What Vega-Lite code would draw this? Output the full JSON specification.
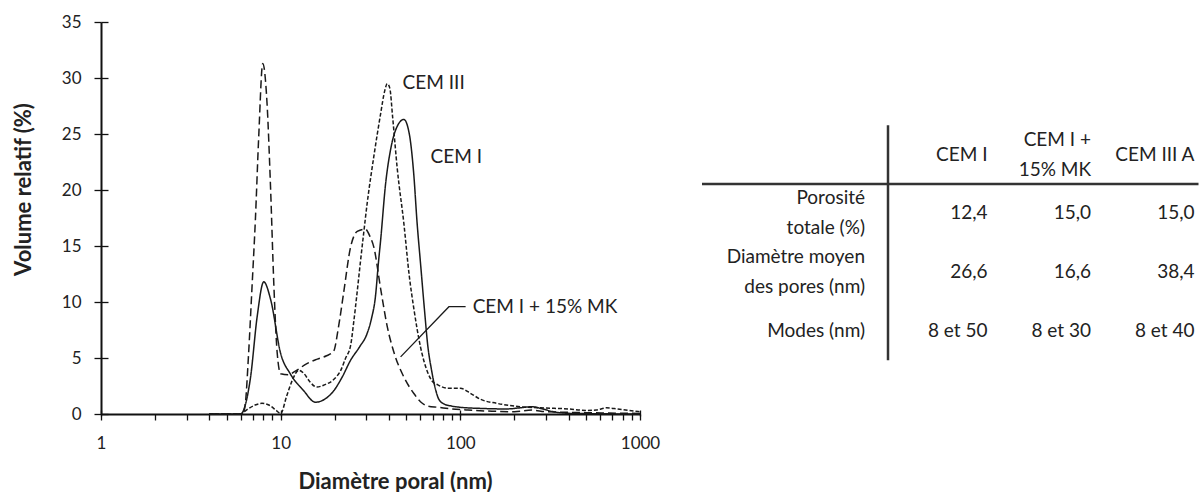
{
  "$schema": "https://vega.github.io/schema/vega-lite/v6.json",
  "background": "white",
  "padding": {"left": 12, "top": 13, "right": 0, "bottom": 0},
  "config": {
    "font": "Lato",
    "view": {"stroke": null},
    "axis": {"grid": false, "labelFont": "Lato", "titleFont": "Lato", "labelColor": "#222", "titleColor": "#222", "domainColor": "#111", "tickColor": "#111"},
    "text": {"font": "Lato"}
  },
  "datasets": {
    "curves": [
      {"s": "CEM I", "d": 4, "v": 0}, {"s": "CEM I", "d": 6.0, "v": 0}, {"s": "CEM I", "d": 6.3, "v": 0.6}, {"s": "CEM I", "d": 6.8, "v": 3.3}, {"s": "CEM I", "d": 7.4, "v": 8.7}, {"s": "CEM I", "d": 8.05, "v": 11.8}, {"s": "CEM I", "d": 8.8, "v": 10.2}, {"s": "CEM I", "d": 10, "v": 5.4}, {"s": "CEM I", "d": 11.3, "v": 3.6}, {"s": "CEM I", "d": 13.4, "v": 2.1}, {"s": "CEM I", "d": 15.6, "v": 1.05}, {"s": "CEM I", "d": 17.5, "v": 1.3}, {"s": "CEM I", "d": 19.8, "v": 2.1}, {"s": "CEM I", "d": 22, "v": 3.3}, {"s": "CEM I", "d": 24.5, "v": 4.8}, {"s": "CEM I", "d": 27.5, "v": 6.0}, {"s": "CEM I", "d": 30.3, "v": 7.2}, {"s": "CEM I", "d": 32, "v": 8.5}, {"s": "CEM I", "d": 33.7, "v": 10.5}, {"s": "CEM I", "d": 35, "v": 13.5}, {"s": "CEM I", "d": 36, "v": 15.5}, {"s": "CEM I", "d": 38.4, "v": 20.6}, {"s": "CEM I", "d": 40.9, "v": 23.6}, {"s": "CEM I", "d": 44, "v": 25.5}, {"s": "CEM I", "d": 48.5, "v": 26.3}, {"s": "CEM I", "d": 52, "v": 25}, {"s": "CEM I", "d": 55, "v": 21.5}, {"s": "CEM I", "d": 57.5, "v": 17}, {"s": "CEM I", "d": 60, "v": 13.5}, {"s": "CEM I", "d": 63, "v": 9.5}, {"s": "CEM I", "d": 66, "v": 6}, {"s": "CEM I", "d": 69, "v": 4}, {"s": "CEM I", "d": 72, "v": 2.5}, {"s": "CEM I", "d": 76, "v": 1.3}, {"s": "CEM I", "d": 81, "v": 0.9}, {"s": "CEM I", "d": 90, "v": 0.7}, {"s": "CEM I", "d": 100, "v": 0.6}, {"s": "CEM I", "d": 130, "v": 0.5}, {"s": "CEM I", "d": 180, "v": 0.45}, {"s": "CEM I", "d": 215, "v": 0.55}, {"s": "CEM I", "d": 250, "v": 0.65}, {"s": "CEM I", "d": 280, "v": 0.5}, {"s": "CEM I", "d": 330, "v": 0.2}, {"s": "CEM I", "d": 420, "v": 0.05}, {"s": "CEM I", "d": 1000, "v": 0},
      {"s": "CEM I + 15% MK", "d": 4, "v": 0}, {"s": "CEM I + 15% MK", "d": 6.15, "v": 0}, {"s": "CEM I + 15% MK", "d": 6.36, "v": 0.95}, {"s": "CEM I + 15% MK", "d": 6.63, "v": 5.4}, {"s": "CEM I + 15% MK", "d": 6.93, "v": 11.4}, {"s": "CEM I + 15% MK", "d": 7.23, "v": 17.3}, {"s": "CEM I + 15% MK", "d": 7.55, "v": 24.8}, {"s": "CEM I + 15% MK", "d": 7.95, "v": 31.3}, {"s": "CEM I + 15% MK", "d": 8.4, "v": 27.7}, {"s": "CEM I + 15% MK", "d": 8.78, "v": 20.3}, {"s": "CEM I + 15% MK", "d": 9.17, "v": 11.4}, {"s": "CEM I + 15% MK", "d": 9.57, "v": 5.4}, {"s": "CEM I + 15% MK", "d": 10, "v": 3.6}, {"s": "CEM I + 15% MK", "d": 11, "v": 3.5}, {"s": "CEM I + 15% MK", "d": 12, "v": 3.8}, {"s": "CEM I + 15% MK", "d": 14, "v": 4.5}, {"s": "CEM I + 15% MK", "d": 16, "v": 4.9}, {"s": "CEM I + 15% MK", "d": 18, "v": 5.2}, {"s": "CEM I + 15% MK", "d": 19.7, "v": 5.6}, {"s": "CEM I + 15% MK", "d": 21, "v": 7.8}, {"s": "CEM I + 15% MK", "d": 22.4, "v": 10.8}, {"s": "CEM I + 15% MK", "d": 24.5, "v": 14.9}, {"s": "CEM I + 15% MK", "d": 26.7, "v": 16.3}, {"s": "CEM I + 15% MK", "d": 29.6, "v": 16.5}, {"s": "CEM I + 15% MK", "d": 31.5, "v": 15.8}, {"s": "CEM I + 15% MK", "d": 33, "v": 14.9}, {"s": "CEM I + 15% MK", "d": 36, "v": 11.2}, {"s": "CEM I + 15% MK", "d": 39.2, "v": 7.8}, {"s": "CEM I + 15% MK", "d": 42.9, "v": 5.4}, {"s": "CEM I + 15% MK", "d": 48.5, "v": 3.3}, {"s": "CEM I + 15% MK", "d": 55, "v": 1.85}, {"s": "CEM I + 15% MK", "d": 60, "v": 1.1}, {"s": "CEM I + 15% MK", "d": 66, "v": 0.7}, {"s": "CEM I + 15% MK", "d": 75, "v": 0.6}, {"s": "CEM I + 15% MK", "d": 90, "v": 0.45}, {"s": "CEM I + 15% MK", "d": 110, "v": 0.35}, {"s": "CEM I + 15% MK", "d": 150, "v": 0.25}, {"s": "CEM I + 15% MK", "d": 200, "v": 0.2}, {"s": "CEM I + 15% MK", "d": 250, "v": 0.35}, {"s": "CEM I + 15% MK", "d": 300, "v": 0.2}, {"s": "CEM I + 15% MK", "d": 500, "v": 0.12}, {"s": "CEM I + 15% MK", "d": 1000, "v": 0.05},
      {"s": "CEM III", "d": 4, "v": 0}, {"s": "CEM III", "d": 5.97, "v": 0}, {"s": "CEM III", "d": 6.5, "v": 0.4}, {"s": "CEM III", "d": 7.2, "v": 0.8}, {"s": "CEM III", "d": 7.87, "v": 0.95}, {"s": "CEM III", "d": 8.6, "v": 0.8}, {"s": "CEM III", "d": 9.4, "v": 0.35}, {"s": "CEM III", "d": 10, "v": 0.05}, {"s": "CEM III", "d": 10.8, "v": 1.6}, {"s": "CEM III", "d": 11.6, "v": 3.0}, {"s": "CEM III", "d": 12.6, "v": 3.9}, {"s": "CEM III", "d": 13.5, "v": 3.6}, {"s": "CEM III", "d": 14.5, "v": 2.9}, {"s": "CEM III", "d": 15.9, "v": 2.4}, {"s": "CEM III", "d": 17.5, "v": 2.6}, {"s": "CEM III", "d": 19.8, "v": 3.1}, {"s": "CEM III", "d": 21.6, "v": 3.9}, {"s": "CEM III", "d": 23, "v": 5.0}, {"s": "CEM III", "d": 24.5, "v": 6.1}, {"s": "CEM III", "d": 25.5, "v": 8.2}, {"s": "CEM III", "d": 26.7, "v": 11}, {"s": "CEM III", "d": 27.8, "v": 13.6}, {"s": "CEM III", "d": 29, "v": 16.2}, {"s": "CEM III", "d": 30.3, "v": 18.8}, {"s": "CEM III", "d": 33, "v": 23}, {"s": "CEM III", "d": 36, "v": 26.8}, {"s": "CEM III", "d": 38, "v": 28.9}, {"s": "CEM III", "d": 39.2, "v": 29.5}, {"s": "CEM III", "d": 40.5, "v": 29.1}, {"s": "CEM III", "d": 42, "v": 26.5}, {"s": "CEM III", "d": 44.5, "v": 22}, {"s": "CEM III", "d": 48.5, "v": 17}, {"s": "CEM III", "d": 52, "v": 12.3}, {"s": "CEM III", "d": 55, "v": 9.5}, {"s": "CEM III", "d": 60, "v": 6}, {"s": "CEM III", "d": 65.5, "v": 3.8}, {"s": "CEM III", "d": 70, "v": 2.9}, {"s": "CEM III", "d": 75, "v": 2.6}, {"s": "CEM III", "d": 85, "v": 2.3}, {"s": "CEM III", "d": 100, "v": 2.3}, {"s": "CEM III", "d": 115, "v": 1.8}, {"s": "CEM III", "d": 130, "v": 1.3}, {"s": "CEM III", "d": 160, "v": 0.95}, {"s": "CEM III", "d": 200, "v": 0.7}, {"s": "CEM III", "d": 280, "v": 0.55}, {"s": "CEM III", "d": 400, "v": 0.45}, {"s": "CEM III", "d": 500, "v": 0.32}, {"s": "CEM III", "d": 570, "v": 0.35}, {"s": "CEM III", "d": 650, "v": 0.55}, {"s": "CEM III", "d": 750, "v": 0.45}, {"s": "CEM III", "d": 1000, "v": 0.2}
    ],
    "leader": [
      {"o": 1, "d": 46.5, "v": 5.1}, {"o": 2, "d": 86.4, "v": 9.58}, {"o": 3, "d": 107, "v": 9.58}
    ],
    "labels": [
      {"d": 47.7, "v": 29.55, "t": "CEM III"},
      {"d": 68.3, "v": 22.95, "t": "CEM I"},
      {"d": 117.1, "v": 9.58, "t": "CEM I + 15% MK"}
    ],
    "cells": [
      {"row": "header", "col": "CEM I", "kind": "value", "text": "CEM I"},
      {"row": "header", "col": "CEM I + 15% MK", "kind": "value", "text": "CEM I +\n15% MK"},
      {"row": "header", "col": "CEM III A", "kind": "value", "text": "CEM III A"},
      {"row": "Porosité totale (%)", "col": "CEM I", "kind": "label", "text": "Porosité\ntotale (%)"},
      {"row": "Porosité totale (%)", "col": "CEM I", "kind": "value", "text": "12,4"},
      {"row": "Porosité totale (%)", "col": "CEM I + 15% MK", "kind": "value", "text": "15,0"},
      {"row": "Porosité totale (%)", "col": "CEM III A", "kind": "value", "text": "15,0"},
      {"row": "Diamètre moyen des pores (nm)", "col": "CEM I", "kind": "label", "text": "Diamètre moyen\ndes pores (nm)"},
      {"row": "Diamètre moyen des pores (nm)", "col": "CEM I", "kind": "value", "text": "26,6"},
      {"row": "Diamètre moyen des pores (nm)", "col": "CEM I + 15% MK", "kind": "value", "text": "16,6"},
      {"row": "Diamètre moyen des pores (nm)", "col": "CEM III A", "kind": "value", "text": "38,4"},
      {"row": "Modes (nm)", "col": "CEM I", "kind": "label", "text": "Modes (nm)"},
      {"row": "Modes (nm)", "col": "CEM I", "kind": "value", "text": "8 et 50"},
      {"row": "Modes (nm)", "col": "CEM I + 15% MK", "kind": "value", "text": "8 et 30"},
      {"row": "Modes (nm)", "col": "CEM III A", "kind": "value", "text": "8 et 40"}
    ],
    "vline": [{"col": "CEM I"}],
    "hline": [{"row": "Porosité totale (%)"}]
  },
  "spacing": 40,
  "center": true,
  "hconcat": [
    {
      "width": 539,
      "height": 392,
      "layer": [
        {
          "data": {"name": "curves"},
          "mark": {"type": "line", "interpolate": "monotone", "strokeWidth": 1.5, "color": "#1a1a1a"},
          "encoding": {
            "x": {
              "field": "d", "type": "quantitative",
              "scale": {"type": "log", "domain": [1, 1000]},
              "axis": {
                "values": [1, 2, 3, 4, 5, 6, 7, 8, 9, 10, 20, 30, 40, 50, 60, 70, 80, 90, 100, 200, 300, 400, 500, 600, 700, 800, 900, 1000],
                "labelExpr": "indexof([1, 10, 100, 1000], datum.value) >= 0 ? '' + datum.value : ''",
                "labelOverlap": false, "labelFlush": false,
                "labelFontSize": 17, "labelBaseline": "middle", "labelPadding": 23,
                "tickSize": 6, "tickWidth": 1.3, "domainWidth": 2,
                "title": "Diamètre poral (nm)", "titleFontSize": 22, "titleFontWeight": "bold",
                "titleX": 294, "titleY": 67, "titleAlign": "center", "titleBaseline": "middle", "titleAngle": 0
              }
            },
            "y": {
              "field": "v", "type": "quantitative",
              "scale": {"domain": [0, 35], "nice": false},
              "axis": {
                "values": [0, 5, 10, 15, 20, 25, 30, 35],
                "labelFontSize": 17, "labelPadding": 13, "labelFlush": false,
                "tickSize": 7, "tickWidth": 1.3, "domainWidth": 2,
                "title": "Volume relatif (%)", "titleFontSize": 22, "titleFontWeight": "bold",
                "titleX": -78, "titleY": 167, "titleAlign": "center", "titleBaseline": "middle", "titleAngle": -90
              }
            },
            "strokeDash": {
              "field": "s", "type": "nominal",
              "scale": {"domain": ["CEM I", "CEM I + 15% MK", "CEM III"], "range": [[1, 0], [8, 4], [4, 2]]},
              "legend": null
            }
          }
        },
        {
          "data": {"name": "leader"},
          "mark": {"type": "line", "strokeWidth": 1.3, "color": "#1a1a1a"},
          "encoding": {
            "x": {"field": "d", "type": "quantitative", "axis": null},
            "y": {"field": "v", "type": "quantitative", "axis": null},
            "order": {"field": "o"}
          }
        },
        {
          "data": {"name": "labels"},
          "mark": {"type": "text", "align": "left", "baseline": "middle", "fontSize": 19, "color": "#222"},
          "encoding": {
            "x": {"field": "d", "type": "quantitative",
              "axis": {"orient": "bottom", "offset": -4, "values": [1, 10, 100, 1000], "domain": false, "labels": false, "ticks": true, "tickSize": 6, "tickWidth": 1.3, "title": null}},
            "y": {"field": "v", "type": "quantitative",
              "axis": {"orient": "left", "offset": -7, "values": [0, 5, 10, 15, 20, 25, 30, 35], "domain": false, "labels": false, "ticks": true, "tickSize": 7, "tickWidth": 1.3, "title": null}},
            "text": {"field": "t"}
          }
        }
      ],
      "resolve": {"axis": {"x": "independent", "y": "independent"}}
    },
    {
      "width": 496.5,
      "height": 235,
      "layer": [
        {
          "data": {"name": "cells"},
          "transform": [{"filter": "datum.kind === 'value' && indexof(datum.text, '\\n') < 0"}],
          "mark": {"type": "text", "align": "right", "baseline": "middle", "dx": -4, "fontSize": 19, "color": "#222"},
          "encoding": {
            "x": {"field": "col", "type": "nominal", "bandPosition": 1,
              "scale": {"type": "band", "domain": ["CEM I", "CEM I + 15% MK", "CEM III A"], "paddingInner": 0, "paddingOuter": 0.8986, "align": 1},
              "axis": {"orient": "bottom", "domain": false, "labels": false, "ticks": true, "tickSize": 28, "tickWidth": 1, "tickColor": "#ffffff", "title": null}},
            "y": {"field": "row", "type": "nominal",
              "scale": {"type": "band", "domain": ["header", "Porosité totale (%)", "Diamètre moyen des pores (nm)", "Modes (nm)"], "paddingInner": 0, "paddingOuter": 0},
              "axis": null},
            "text": {"field": "text"}
          }
        },
        {
          "data": {"name": "cells"},
          "transform": [{"filter": "datum.kind === 'value' && indexof(datum.text, '\\n') >= 0"}],
          "mark": {"type": "text", "align": "right", "baseline": "middle", "dx": -4, "dy": -15, "fontSize": 19, "lineBreak": "\n", "lineHeight": 30, "color": "#222"},
          "encoding": {
            "x": {"field": "col", "type": "nominal", "bandPosition": 1, "scale": {"type": "band"},
              "axis": {"orient": "bottom", "domain": false, "labels": false, "ticks": true, "tickSize": 28, "tickWidth": 1, "tickColor": "#ffffff", "title": null}},
            "y": {"field": "row", "type": "nominal", "scale": {"type": "band"}, "axis": null},
            "text": {"field": "text"}
          }
        },
        {
          "data": {"name": "cells"},
          "transform": [{"filter": "datum.kind === 'label' && indexof(datum.text, '\\n') >= 0"}],
          "mark": {"type": "text", "align": "right", "baseline": "middle", "dx": -23, "dy": -15, "fontSize": 19, "lineBreak": "\n", "lineHeight": 30, "color": "#222"},
          "encoding": {
            "x": {"field": "col", "type": "nominal", "bandPosition": 0, "scale": {"type": "band"},
              "axis": {"orient": "bottom", "domain": false, "labels": false, "ticks": true, "tickSize": 28, "tickWidth": 1, "tickColor": "#ffffff", "title": null}},
            "y": {"field": "row", "type": "nominal", "scale": {"type": "band"}, "axis": null},
            "text": {"field": "text"}
          }
        },
        {
          "data": {"name": "cells"},
          "transform": [{"filter": "datum.kind === 'label' && indexof(datum.text, '\\n') < 0"}],
          "mark": {"type": "text", "align": "right", "baseline": "middle", "dx": -23, "fontSize": 19, "color": "#222"},
          "encoding": {
            "x": {"field": "col", "type": "nominal", "bandPosition": 0, "scale": {"type": "band"},
              "axis": {"orient": "bottom", "domain": false, "labels": false, "ticks": true, "tickSize": 28, "tickWidth": 1, "tickColor": "#ffffff", "title": null}},
            "y": {"field": "row", "type": "nominal", "scale": {"type": "band"}, "axis": null},
            "text": {"field": "text"}
          }
        },
        {
          "data": {"name": "vline"},
          "mark": {"type": "rule", "strokeWidth": 2.5, "color": "#333"},
          "encoding": {
            "x": {"field": "col", "type": "nominal", "bandPosition": 0, "scale": {"type": "band"},
              "axis": {"orient": "bottom", "domain": false, "labels": false, "ticks": true, "tickSize": 28, "tickWidth": 1, "tickColor": "#ffffff", "title": null}}
          }
        },
        {
          "data": {"name": "hline"},
          "mark": {"type": "rule", "strokeWidth": 2.5, "color": "#333"},
          "encoding": {
            "y": {"field": "row", "type": "nominal", "bandPosition": 0, "scale": {"type": "band"}, "axis": null}
          }
        }
      ]
    }
  ]
}
